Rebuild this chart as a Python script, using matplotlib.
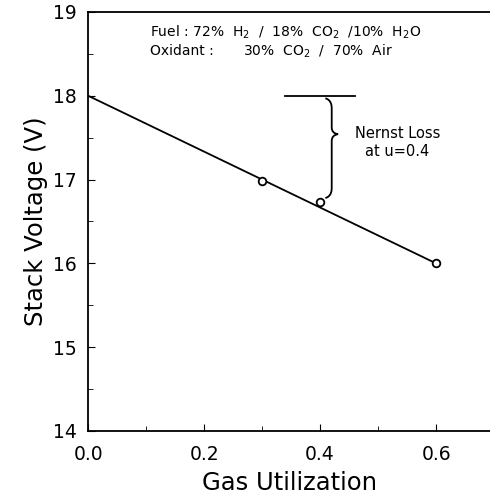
import matplotlib.pyplot as plt
from matplotlib.path import Path
from matplotlib.patches import PathPatch
from matplotlib.ticker import MultipleLocator, FormatStrFormatter

# measured stack voltage vs. gas utilization
util = [0.3, 0.4, 0.6]
voltage = [16.98, 16.73, 16.0]

# linear fit through the data
fit_util = [0.0, 0.6]
fit_voltage = [18.0, 16.0]

# Nernst loss marker: reference level and the point it is measured at
nernst_ref = 18.0
nernst_bar = [0.34, 0.46]
nernst_u = 0.42
nernst_low = 16.78

fig = plt.figure(figsize=(4.9, 4.99), dpi=100)
ax = fig.add_axes([0.18, 0.1363, 0.82, 0.8397])

ax.plot(fit_util, fit_voltage, color="black", lw=1.3)
ax.plot(util, voltage, "o", mfc="white", mec="black", mew=1.3, ms=5.5, zorder=3)

ax.plot(nernst_bar, [nernst_ref, nernst_ref], color="black", lw=1.3)

# curly brace from the reference level down to the u=0.4 point
top, bot = nernst_ref - 0.03, nernst_low
mid = top - 0.36 * (top - bot)
w = 0.011
x = nernst_u
verts = [(x - w, top), (x, top - 0.02), (x, top - 0.1), (x, top - 0.12),
         (x, mid + 0.08), (x, mid + 0.01), (x + w, mid),
         (x, mid - 0.01), (x, mid - 0.08),
         (x, bot + 0.12), (x, bot + 0.1), (x, bot + 0.02), (x - w, bot)]
codes = [Path.MOVETO, Path.CURVE4, Path.CURVE4, Path.CURVE4,
         Path.LINETO, Path.CURVE3, Path.CURVE3, Path.CURVE3, Path.CURVE3,
         Path.LINETO, Path.CURVE4, Path.CURVE4, Path.CURVE4]
ax.add_patch(PathPatch(Path(verts, codes), fc="none", ec="black", lw=1.3))

ax.text(0.533, 17.55, "Nernst Loss", fontsize=10.5, va="center", ha="center")
ax.text(0.533, 17.33, "at u=0.4", fontsize=10.5, va="center", ha="center")

ax.text(0.107, 18.76, "Fuel : 72%  H$_2$  /  18%  CO$_2$  /10%  H$_2$O",
        fontsize=10, va="center")
ax.text(0.107, 18.53, "Oxidant :", fontsize=10, va="center")
ax.text(0.267, 18.53, "30%  CO$_2$  /  70%  Air", fontsize=10, va="center")

ax.set_xlim(0, 0.693)
ax.set_ylim(14, 19)
ax.spines["right"].set_visible(False)
ax.xaxis.set_major_locator(MultipleLocator(0.2))
ax.xaxis.set_minor_locator(MultipleLocator(0.1))
ax.yaxis.set_major_locator(MultipleLocator(1))
ax.yaxis.set_minor_locator(MultipleLocator(0.5))
ax.xaxis.set_major_formatter(FormatStrFormatter("%.1f"))
ax.tick_params(which="both", direction="in", top=False, right=False, labelsize=13.5)
ax.tick_params(which="major", length=5)
ax.tick_params(which="minor", length=3.5)
ax.tick_params(axis="x", pad=10)
ax.tick_params(axis="y", pad=8)
for s in ax.spines.values():
    s.set_linewidth(1.3)

ax.set_xlabel("Gas Utilization", fontsize=17.5, labelpad=5)
ax.set_ylabel("Stack Voltage (V)", fontsize=17.5, labelpad=4)

fig.savefig("out.png", dpi=100)
